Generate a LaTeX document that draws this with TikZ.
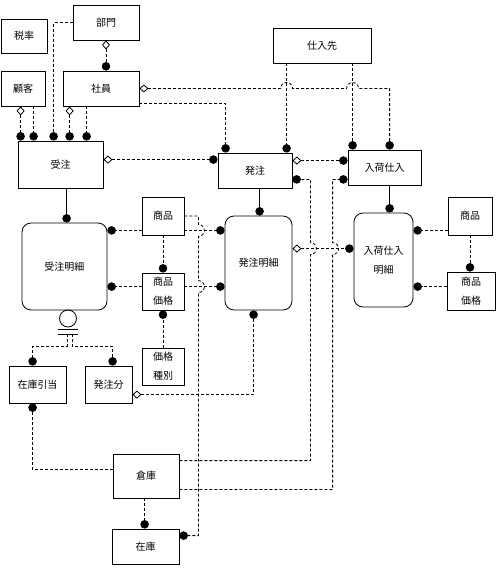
\documentclass[tikz,border=0pt]{standalone}
\usepackage{fontspec}
\newfontfamily\cjk{Noto Sans CJK JP}
\usetikzlibrary{calc,arrows.meta}

\tikzset{
	ent/.style={draw, line width=0.8pt, fill=white, inner sep=0pt, align=center, font=\cjk\fontsize{10}{19}\selectfont},
	dep/.style={ent, rounded corners=9pt},
	rel/.style={line width=0.8pt, dash pattern=on 3pt off 2pt},
	idrel/.style={line width=0.8pt},
	todot/.style={-{Circle[length=8.5pt]}},
	diadot/.style={{Diamond[open,length=9pt,width=8pt]}-{Circle[length=8.5pt]}},
}

\begin{document}
\begin{tikzpicture}[x=1pt,y=-1pt]
		%%%%% START %%%%%
		\useasboundingbox (0,0) rectangle (500,574);
		
		\node[ent, minimum width=46, minimum height=34] (zeiritsu) at (24,36) {税率};
		\node[ent, minimum width=66, minimum height=35] (bumon) at (106,22.5) {部門};
		\node[ent, minimum width=44, minimum height=35] (kokyaku) at (23,88.5) {顧客};
		\node[ent, minimum width=76, minimum height=35] (shain) at (101,88.5) {社員};
		\node[ent, minimum width=98, minimum height=35] (shiiresaki) at (322,45.5) {仕入先};
		\node[ent, minimum width=85, minimum height=47] (juchu) at (60.5,164.5) {受注};
		\node[ent, minimum width=74, minimum height=35] (hacchu) at (255,170.5) {発注};
		\node[ent, minimum width=73, minimum height=35] (nyuka) at (384.5,167.5) {入荷仕入};
		
		\node[dep, minimum width=85, minimum height=87] (juchumeisai) at (64.5,266.5) {受注明細};
		\node[dep, minimum width=67, minimum height=94] (hacchumeisai) at (258.5,263) {発注明細};
		\node[dep, minimum width=59, minimum height=94] (nyukameisai) at (383.5,260) {入荷仕入\\明細};
		
		\node[ent, minimum width=42, minimum height=38] (shohinA) at (163,216) {商品};
		\node[ent, minimum width=42, minimum height=37] (kakakuA) at (163,291.5) {商品\\価格};
		\node[ent, minimum width=42, minimum height=37] (shubetsu) at (163,366.5) {価格\\種別};
		\node[ent, minimum width=44, minimum height=38] (shohinB) at (470,216) {商品};
		\node[ent, minimum width=48, minimum height=38] (kakakuB) at (471,291) {商品\\価格};
		
		\node[ent, minimum width=57, minimum height=37] (hikiate) at (37.5,384.5) {在庫引当};
		\node[ent, minimum width=47, minimum height=37] (hacchubun) at (108.5,384.5) {発注分};
		\node[ent, minimum width=66, minimum height=44] (souko) at (146,476) {倉庫};
		\node[ent, minimum width=67, minimum height=35] (zaiko) at (145.5,546.5) {在庫};
		
		% subtype mark
		\node[draw, circle, line width=0.8pt, minimum size=17, inner sep=0pt] (cat) at (68,318.5) {};
		\draw[idrel] ($(cat.south)+(-10,2)$) -- ++(20,0);
		\draw[idrel] ($(cat.south)+(-10,7)$) -- ++(20,0);
		\coordinate (catbar) at ($(cat.south)+(0,7)$);
		\draw[rel, todot] ($(catbar)+(-1,0)$) -- ++(0,12) -| ($(hikiate.north west)+(24,0)$);
		\draw[rel, todot] ($(catbar)+(4,0)$) -- ++(0,12) -| ($(hacchubun.north west)+(28,0)$);
		
		% upper part
		\draw[rel, todot] (bumon.west) -| ($(juchu.north west)+(36,0)$);
		\draw[rel, diadot] (bumon.south) -- (bumon.south |- shain.north);
		\draw[rel, diadot] ($(kokyaku.south west)+(20,0)$) coordinate (k1) -- (k1 |- juchu.north);
		\draw[rel, todot] ($(kokyaku.south west)+(33,0)$) coordinate (k2) -- (k2 |- juchu.north);
		\draw[rel, diadot] ($(shain.south west)+(7,0)$) coordinate (e1) -- (e1 |- juchu.north);
		\draw[rel, todot] ($(shain.south west)+(24,0)$) coordinate (e2) -- (e2 |- juchu.north);
		
		\coordinate (s1) at ($(shiiresaki.south west)+(14,0)$);
		\coordinate (s2) at ($(shiiresaki.south west)+(80,0)$);
		\draw[rel, todot] (s1) -- (s1 |- hacchu.north);
		\draw[rel, todot] (s2) -- (s2 |- nyuka.north);
		\draw[rel, diadot] (shain.east) -- ($(s1 |- shain.east)+(-6,0)$) arc[start angle=180, end angle=0, radius=6pt] -- ($(s2 |- shain.east)+(-6,0)$) arc[start angle=180, end angle=0, radius=6pt] -| ($(nyuka.north west)+(42,0)$);
		\draw[rel, todot] ($(shain.south east)+(0,-3)$) -| ($(hacchu.north west)+(8,0)$);
		\draw[rel, diadot] ($(juchu.north east)+(0,19)$) coordinate (j1) -- (j1 -| hacchu.west);
		\draw[rel, diadot] ($(hacchu.north east)+(0,8)$) coordinate (h1) -- (h1 -| nyuka.west);
		
		\draw[idrel, todot] ($(juchu.south west)+(49,0)$) coordinate (j2) -- (j2 |- juchumeisai.north);
		\draw[idrel, todot] ($(hacchu.south west)+(42,0)$) coordinate (h2) -- (h2 |- hacchumeisai.north);
		\draw[idrel, todot] ($(nyuka.south west)+(42,0)$) coordinate (n1) -- (n1 |- nyukameisai.north);
		
		% details
		\draw[rel, todot] ($(shohinA.south west)+(0,-5)$) coordinate (a1) -- (a1 -| juchumeisai.east);
		\draw[rel, todot] ($(kakakuA.north west)+(0,14)$) coordinate (a2) -- (a2 -| juchumeisai.east);
		\draw[rel, todot] (a1 -| shohinA.east) -- (a1 -| hacchumeisai.west);
		\draw[rel, todot] (a2 -| kakakuA.east) -- (a2 -| hacchumeisai.west);
		\draw[rel, todot] (shohinA.south) -- (kakakuA.north);
		\draw[rel, todot] (shubetsu.north) -- (kakakuA.south);
		\draw[rel, todot] (shohinA.east) -- ++(14,0) -- ($(a1 -| shohinA.east)+(14,-6)$) arc[start angle=90, end angle=-90, radius=6pt] -- ($(a2 -| shohinA.east)+(14,-6)$) arc[start angle=90, end angle=-90, radius=6pt] |- ($(zaiko.north east)+(0,7)$);
		
		\draw[rel, todot] ($(shohinB.south west)+(0,-5)$) coordinate (b1) -- (b1 -| nyukameisai.east);
		\draw[rel, todot] ($(kakakuB.north west)+(0,15)$) coordinate (b2) -- (b2 -| nyukameisai.east);
		\draw[rel, todot] (shohinB.south) -- (shohinB.south |- kakakuB.north);
		
		\draw[rel, diadot] ($(hacchumeisai.north east)+(0,33)$) coordinate (m1) -- (m1 -| nyukameisai.west);
		\coordinate (v1) at ($(hacchu.south east)+(18,-9)$);
		\coordinate (v2) at ($(nyuka.south west)+(-15,-6)$);
		\draw[rel, todot] ($(souko.north east)+(0,7)$) -| ($(v1 |- m1)+(0,6)$) arc[start angle=-90, end angle=90, radius=6pt] -- (v1) -- (v1 -| hacchu.east);
		\draw[rel, todot] ($(souko.south east)+(0,-9)$) -| ($(v2 |- m1)+(0,6)$) arc[start angle=-90, end angle=90, radius=6pt] -- (v2) -- (v2 -| nyuka.west);
		
		% lower part
		\draw[rel, diadot] ($(hacchubun.north east)+(0,29)$) -| ($(hacchumeisai.south west)+(29,0)$);
		\draw[rel, todot] ($(souko.north west)+(0,16)$) -| ($(hikiate.south west)+(24,0)$);
		\draw[rel, todot] ($(souko.south west)+(32,0)$) coordinate (w1) -- (w1 |- zaiko.north);
		
		%%%%% END %%%%%
\end{tikzpicture}
\end{document}
